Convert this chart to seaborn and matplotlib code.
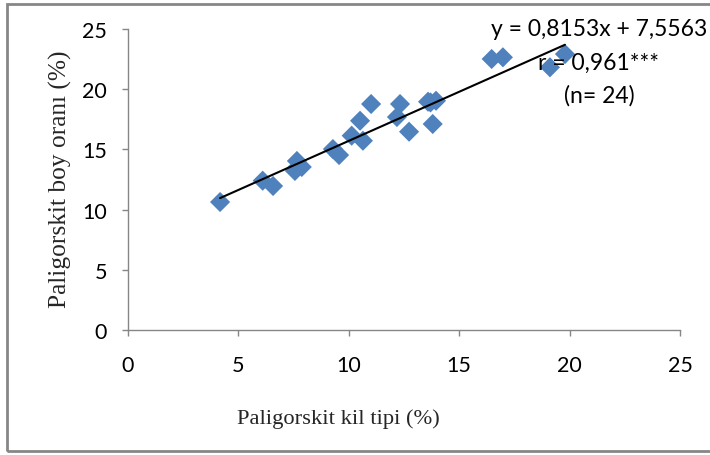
import matplotlib
matplotlib.use("Agg")
import matplotlib.pyplot as plt
import seaborn as sns
import numpy as np
import pandas as pd
from matplotlib.patches import Rectangle

# Data
kil_tipi = [4.17, 6.10, 6.57, 7.56, 7.65, 7.87, 7.60, 9.28, 9.56, 10.13, 10.51, 10.64,
            11.01, 12.18, 12.32, 12.73, 13.80, 13.59, 13.95, 13.70, 16.47, 16.98, 19.11, 19.79]
boy_orani = [10.63, 12.40, 11.96, 13.21, 14.04, 13.54, 13.40, 15.03, 14.53, 16.14, 17.38, 15.72,
             18.77, 17.69, 18.77, 16.47, 17.11, 18.96, 19.04, 18.90, 22.51, 22.65, 21.82, 22.92]
slope = 0.8153
intercept = 7.5563
x_ticks = [0, 5, 10, 15, 20, 25]
y_ticks = [0, 5, 10, 15, 20, 25]
eq_lines = ["y = 0,8153x + 7,5563", "r = 0,961***", "(n= 24)"]

df = pd.DataFrame({"x": kil_tipi, "y": boy_orani})

sns.set_theme(style="white")
plt.rcParams['font.family'] = ['Lato', 'DejaVu Sans']

fig = plt.figure(figsize=(7.1, 4.56), dpi=100)
ax = fig.add_axes([128/710, (456-331)/456, (680-128)/710, (331-30)/456])

sns.scatterplot(data=df, x="x", y="y", marker="D", s=105, color="#4F81BD",
                edgecolor="none", linewidth=0, ax=ax, zorder=3)

xs = np.array([min(kil_tipi), max(kil_tipi)])
ax.plot(xs, slope * xs + intercept, color="black", lw=1.5, zorder=4)

ax.set_xlim(0, 25)
ax.set_ylim(0, 25)
ax.set_xticks(x_ticks)
ax.set_yticks(y_ticks)
ax.set_xticklabels([str(t) for t in x_ticks])
ax.set_yticklabels([str(t) for t in y_ticks])
ax.set_xlabel("")
ax.set_ylabel("")

for side in ["top", "right"]:
    ax.spines[side].set_visible(False)
for side in ["left", "bottom"]:
    ax.spines[side].set_color("#868686")
    ax.spines[side].set_linewidth(1.0)
ax.tick_params(axis="both", which="major", direction="out", length=4, width=1,
               color="#868686", labelsize=15.5, labelcolor="black")
ax.tick_params(axis="x", pad=14, bottom=True)
ax.tick_params(axis="y", pad=11, left=True)

fig.text(338/710, 1 - 419/456, "Paligorskit kil tipi (%)", ha="center", va="center",
         fontsize=16.2, family="Liberation Serif")
fig.text(60/710, 1 - 179/456, "Paligorskit boy oranı (%)", ha="center", va="center",
         rotation=90, fontsize=18.3, family="Liberation Serif")

for i, line in enumerate(eq_lines):
    fig.text(599/710, 1 - (30 + 33*i)/456, line, ha="center", va="center",
             fontsize=16.5, color="black")

fig.patches.append(Rectangle((7/710, 4/456), 1.0, 451/456 - 4/456 + 0.001,
                             transform=fig.transFigure, fill=False,
                             edgecolor="#868686", linewidth=2.0))

fig.savefig("out.png", dpi=100)
